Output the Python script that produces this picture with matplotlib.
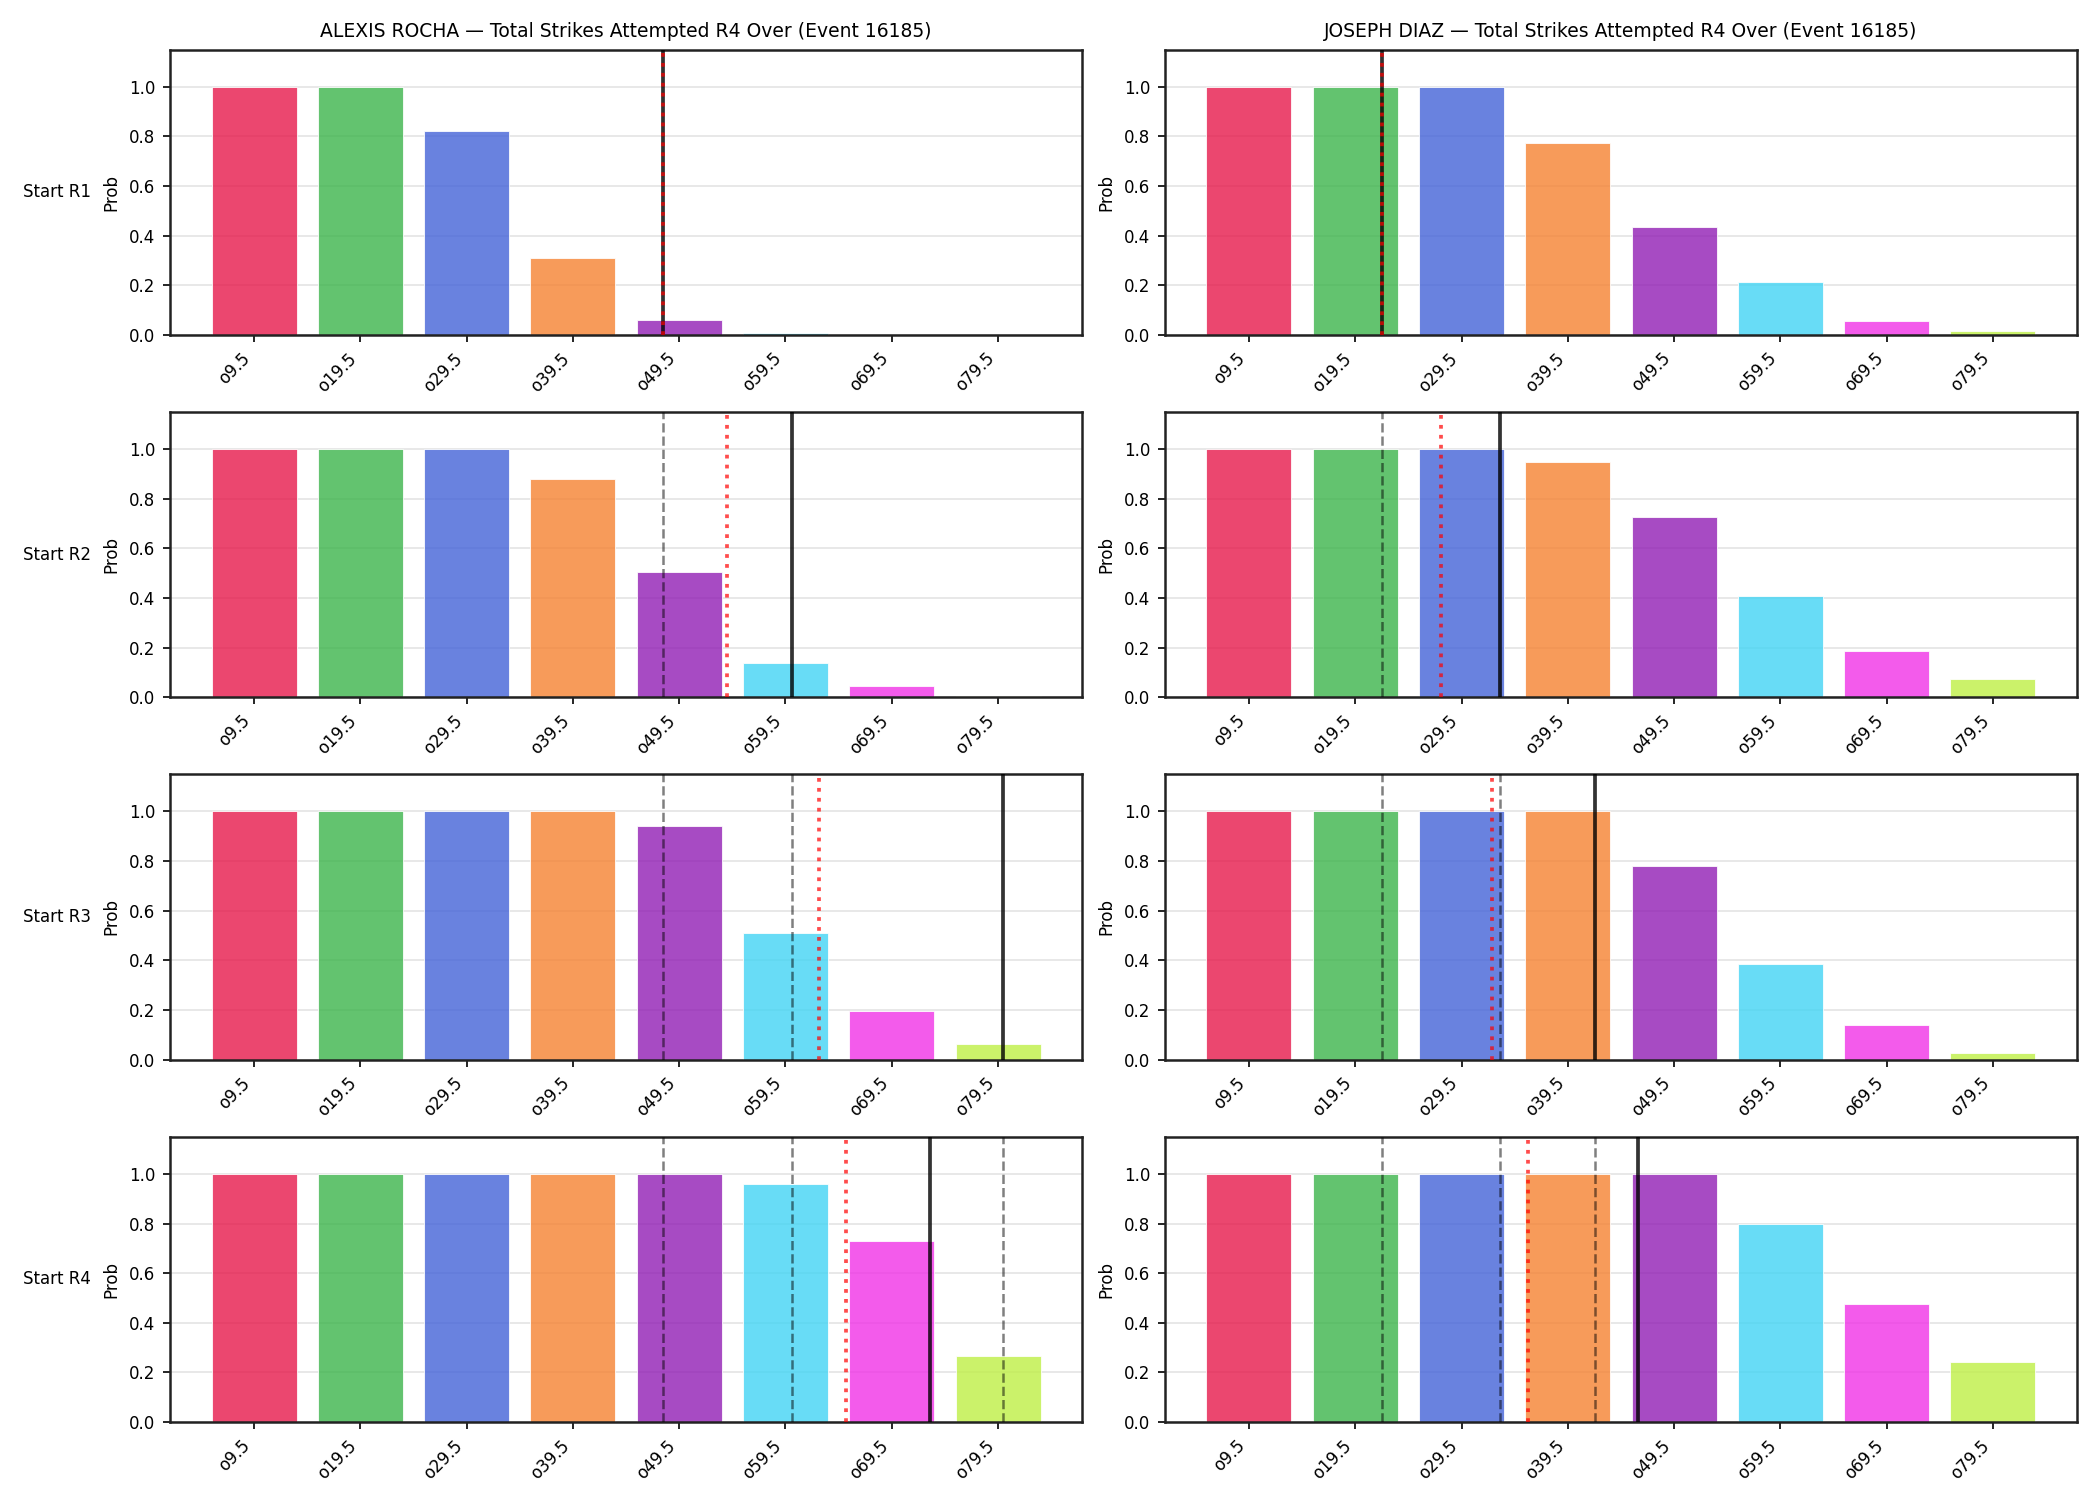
import numpy as np
import matplotlib
matplotlib.use("Agg")
import matplotlib.pyplot as plt

lines_labels = ["o9.5", "o19.5", "o29.5", "o39.5", "o49.5", "o59.5", "o69.5", "o79.5"]
bar_colors = ["#e6194b", "#3cb44b", "#4363d8", "#f58231",
              "#911eb4", "#42d4f4", "#f032e6", "#bfef45"]
round_labels = ["Start R1", "Start R2", "Start R3", "Start R4"]
fighters = ["ALEXIS ROCHA", "JOSEPH DIAZ"]

# over probabilities per starting round
rocha_probs = [
    [1.0, 1.0, 0.82, 0.31, 0.059, 0.007, 0.001, 0.0],
    [1.0, 1.0, 1.0, 0.88, 0.504, 0.139, 0.046, 0.005],
    [1.0, 1.0, 1.0, 1.0, 0.94, 0.51, 0.196, 0.063],
    [1.0, 1.0, 1.0, 1.0, 0.998, 0.96, 0.729, 0.265],
]
diaz_probs = [
    [1.0, 1.0, 1.0, 0.775, 0.436, 0.211, 0.055, 0.015],
    [1.0, 1.0, 1.0, 0.949, 0.726, 0.406, 0.188, 0.074],
    [1.0, 1.0, 1.0, 1.0, 0.78, 0.385, 0.139, 0.027],
    [1.0, 1.0, 1.0, 1.0, 0.998, 0.80, 0.475, 0.241],
]

# marker positions (in bar index units)
rocha_proj = [3.85, 5.06, 7.05, 6.36]   # solid black
rocha_mean = [3.85, 4.45, 5.32, 5.57]   # red dotted
diaz_proj = [1.254, 2.36, 3.255, 3.66]
diaz_mean = [1.254, 1.81, 2.29, 2.63]

probs = [rocha_probs, diaz_probs]
projs = [rocha_proj, diaz_proj]
means = [rocha_mean, diaz_mean]

fig, axes = plt.subplots(4, 2, figsize=(14, 10), dpi=150)
fig.subplots_adjust(left=0.081, right=0.989, top=0.967, bottom=0.052,
                    wspace=0.091, hspace=0.27)

x = np.arange(len(lines_labels))
for col in range(2):
    for row in range(4):
        ax = axes[row, col]
        ax.bar(x, probs[col][row], color=bar_colors, alpha=0.8,
               edgecolor="white", linewidth=0.5, zorder=2)
        # earlier rounds' projections stay as dashed guides
        for prev in projs[col][:row]:
            ax.axvline(prev, color="black", linestyle="--", linewidth=1.2,
                       alpha=0.5, zorder=3)
        ax.axvline(projs[col][row], color="black", linewidth=1.8, alpha=0.8, zorder=3)
        ax.axvline(means[col][row], color="red", linestyle=":", linewidth=1.8,
                   alpha=0.7, zorder=4)
        ax.set_ylim(0, 1.15)
        ax.set_xticks(x)
        ax.set_xticklabels(lines_labels, rotation=45, ha="right", fontsize=8)
        ax.tick_params(axis="y", labelsize=8)
        ax.set_ylabel("Prob", fontsize=8)
        ax.grid(axis="y", color="#dddddd", alpha=0.8, linewidth=0.8, zorder=0)
        ax.set_axisbelow(True)
        for s in ax.spines.values():
            s.set_linewidth(1.2)
            s.set_color("#222222")
        if row == 0:
            ax.set_title(f"{fighters[col]} — Total Strikes Attempted R4 Over (Event 16185)",
                         fontsize=9)
        if col == 0:
            ax.text(-0.124, 0.5, round_labels[row], transform=ax.transAxes,
                    ha="center", va="center", fontsize=8)

fig.savefig("out.png", dpi=150)
